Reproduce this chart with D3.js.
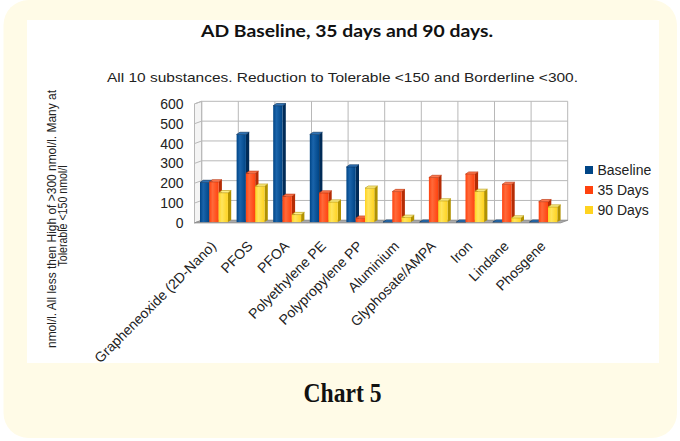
<!DOCTYPE html>
<html>
<head>
<meta charset="utf-8">
<script src="https://cdn.jsdelivr.net/npm/d3@7"></script>
<style>
  html, body { margin: 0; padding: 0; background: #ffffff; }
  svg { display: block; }
</style>
</head>
<body>
<svg id="chart" width="680" height="441"></svg>
<script>
// ---------- data ----------
const categories = ["Grapheneoxide (2D-Nano)", "PFOS", "PFOA", "Polyethylene PE", "Polypropylene PP",
                    "Aluminium", "Glyphosate/AMPA", "Iron", "Lindane", "Phosgene"];
const seriesNames = ["Baseline", "35 Days", "90 Days"];
const baseline = [200, 442, 587, 442, 278, 0, 0, 0, 0, 0];
const days35   = [203, 246, 130, 147, 20, 154, 225, 242, 190, 103];
const days90   = [148, 181, 38, 101, 171, 24, 107, 155, 21, 76];
const yTicks   = [0, 100, 200, 300, 400, 500, 600];

const seriesValues = [baseline, days35, days90];
const colors = {
  front: ["#004586", "#ff420e", "#ffd320"],
  light: ["#1a64ab", "#ff6a3a", "#ffe55e"],
  dark:  ["#002b57", "#b52c05", "#b29200"],
  top:   ["#2f74b8", "#ff7a50", "#fff08a"]
};

const svg = d3.select("#chart");

// ---------- background card ----------
svg.append("rect").attr("x", 3.5).attr("y", 0).attr("width", 673.5).attr("height", 438)
  .attr("rx", 25).attr("fill", "#fffbe7");
svg.append("rect").attr("x", 27).attr("y", 20).attr("width", 632).attr("height", 343)
  .attr("fill", "#ffffff");

// ---------- titles ----------
svg.append("text").attr("x", 347).attr("y", 37).attr("text-anchor", "middle")
  .attr("font-family", "Lato, 'Open Sans', sans-serif").attr("font-weight", 700)
  .attr("font-size", 17.5).attr("fill", "#111")
  .attr("textLength", 292).attr("lengthAdjust", "spacingAndGlyphs")
  .text("AD Baseline, 35 days and 90 days.");

svg.append("text").attr("x", 342.5).attr("y", 82).attr("text-anchor", "middle")
  .attr("font-family", "'Liberation Sans', Arial, sans-serif")
  .attr("font-size", 13.5).attr("fill", "#222")
  .attr("textLength", 471).attr("lengthAdjust", "spacingAndGlyphs")
  .text("All 10 substances. Reduction to Tolerable <150 and Borderline <300.");

svg.append("text").attr("x", 342.5).attr("y", 402.3).attr("text-anchor", "middle")
  .attr("font-family", "'Liberation Serif', 'DejaVu Serif', serif").attr("font-weight", 700)
  .attr("font-size", 27).attr("fill", "#111")
  .attr("textLength", 78).attr("lengthAdjust", "spacingAndGlyphs")
  .text("Chart 5");

// y-axis title (two lines, rotated)
const yTitle = svg.append("g").attr("font-family", "'Liberation Sans', Arial, sans-serif")
  .attr("font-size", 12.5).attr("fill", "#222");
yTitle.append("text").attr("transform", "translate(55.5,219) rotate(-90)")
  .attr("text-anchor", "middle")
  .attr("textLength", 258).attr("lengthAdjust", "spacingAndGlyphs")
  .text("nmol/l. All less then High of >300 nmol/l. Many at");
yTitle.append("text").attr("transform", "translate(66.5,216) rotate(-90)")
  .attr("text-anchor", "middle")
  .attr("textLength", 101).attr("lengthAdjust", "spacingAndGlyphs")
  .text("Tolerable <150 nmol/l");

// ---------- scales (back wall) ----------
const x = d3.scaleBand().domain(categories).range([201.7, 567.7]).paddingInner(0).paddingOuter(0);
const y = d3.scaleLinear().domain([0, 600]).range([220.3, 101.3]);

const wallDX = -7.2, wallDY = 2.6;   // front edge of floor / left wall
const barDX = -1.7, barDY = 1.8;     // bars' front plane
const barW = 9.3, depthX = 3.3, depthY = 2.2;
const gridColor = "#b8b8b8";

const plot = svg.append("g");

// left wall
plot.append("polygon")
  .attr("points", [[x.range()[0] + wallDX, y(0) + wallDY], [x.range()[0] + wallDX, y(600) + wallDY],
                   [x.range()[0], y(600)], [x.range()[0], y(0)]].map(p => p.join(",")).join(" "))
  .attr("fill", "#f4f4f4").attr("stroke", gridColor).attr("stroke-width", 1);
yTicks.forEach(v => {
  plot.append("line")
    .attr("x1", x.range()[0] + wallDX).attr("y1", y(v) + wallDY)
    .attr("x2", x.range()[0]).attr("y2", y(v))
    .attr("stroke", gridColor).attr("stroke-width", 1);
});

// back wall grid
yTicks.forEach(v => {
  plot.append("line")
    .attr("x1", x.range()[0]).attr("x2", x.range()[1])
    .attr("y1", y(v)).attr("y2", y(v))
    .attr("stroke", gridColor).attr("stroke-width", 1);
});
const vEdges = categories.map(c => x(c)).concat([x.range()[1]]);
vEdges.forEach(xx => {
  plot.append("line")
    .attr("x1", xx).attr("x2", xx).attr("y1", y(0)).attr("y2", y(600))
    .attr("stroke", gridColor).attr("stroke-width", 1);
});

// floor
plot.append("polygon")
  .attr("points", [[x.range()[0] + wallDX, y(0) + wallDY], [x.range()[1] + wallDX, y(0) + wallDY],
                   [x.range()[1], y(0)], [x.range()[0], y(0)]].map(p => p.join(",")).join(" "))
  .attr("fill", "#a9a9a9").attr("stroke", "#8c8c8c").attr("stroke-width", 0.8);

// gradients for bar fronts
const defs = svg.append("defs");
seriesNames.forEach((s, i) => {
  const g = defs.append("linearGradient").attr("id", "grad" + i)
    .attr("x1", "0%").attr("x2", "100%").attr("y1", "0%").attr("y2", "0%");
  g.append("stop").attr("offset", "0%").attr("stop-color", colors.front[i]);
  g.append("stop").attr("offset", "35%").attr("stop-color", colors.light[i]);
  g.append("stop").attr("offset", "100%").attr("stop-color", colors.front[i]);
});

// bars
const bars = plot.append("g");
categories.forEach((c, ci) => {
  seriesValues.forEach((vals, si) => {
    const v = vals[ci];
    const x0 = x(c) + barDX + si * barW;
    const x1 = x0 + barW;
    const yb = y(0) + barDY;
    const yt = y(v) + barDY;
    const g = bars.append("g");
    // side face
    g.append("polygon")
      .attr("points", [[x1, yt], [x1 + depthX, yt - depthY], [x1 + depthX, yb - depthY], [x1, yb]]
        .map(p => p.join(",")).join(" "))
      .attr("fill", colors.dark[si]);
    // front face
    g.append("rect").attr("x", x0).attr("y", yt).attr("width", barW).attr("height", Math.max(0, yb - yt))
      .attr("fill", "url(#grad" + si + ")");
    // top face
    g.append("polygon")
      .attr("points", [[x0, yt], [x0 + depthX, yt - depthY], [x1 + depthX, yt - depthY], [x1, yt]]
        .map(p => p.join(",")).join(" "))
      .attr("fill", colors.top[si]).attr("stroke", colors.dark[si]).attr("stroke-width", 0.6);
  });
});

// ---------- axes ----------
const yAxis = d3.axisLeft(y).tickValues(yTicks).tickSize(0).tickPadding(0).tickFormat(d3.format("d"));
const yAxisG = svg.append("g").attr("transform", "translate(183.5,2.6)").call(yAxis);
yAxisG.select(".domain").remove();
yAxisG.selectAll("text").attr("font-family", "'Liberation Sans', Arial, sans-serif")
  .attr("font-size", 14).attr("fill", "#222");

const xAxis = d3.axisBottom(x).tickSize(0).tickPadding(0);
const xAxisG = svg.append("g").attr("transform", "translate(-3,247)").call(xAxis);
xAxisG.select(".domain").remove();
xAxisG.selectAll("text")
  .attr("x", 0).attr("y", 0).attr("dy", 0)
  .attr("transform", "rotate(-45)")
  .attr("text-anchor", "end")
  .attr("font-family", "'Liberation Sans', Arial, sans-serif")
  .attr("font-size", 14).attr("fill", "#222");

// ---------- legend ----------
const legend = svg.append("g").attr("transform", "translate(585,170)");
seriesNames.forEach((s, i) => {
  const row = legend.append("g").attr("transform", `translate(0,${i * 20})`);
  row.append("rect").attr("x", 0).attr("y", -4).attr("width", 8).attr("height", 8)
    .attr("fill", colors.front[i]);
  row.append("text").attr("x", 12.5).attr("y", 0).attr("dy", "0.35em")
    .attr("font-family", "'Liberation Sans', Arial, sans-serif")
    .attr("font-size", 14).attr("fill", "#222").text(s);
});
</script>
</body>
</html>
